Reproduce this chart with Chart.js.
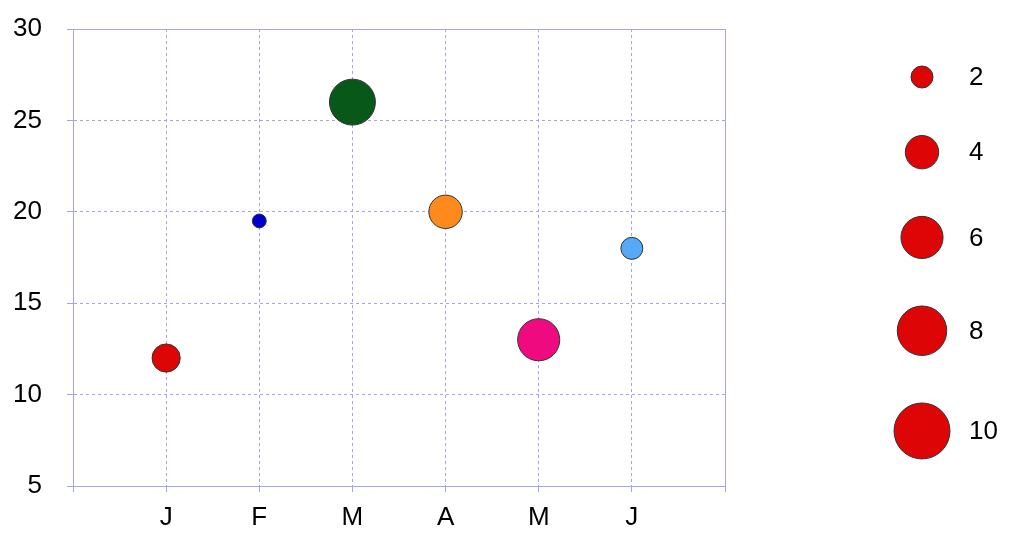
<!DOCTYPE html>
<html>
<head>
<meta charset="utf-8">
<script src="https://cdn.jsdelivr.net/npm/chart.js@4/dist/chart.umd.min.js"></script>
<style>
  html, body { margin: 0; padding: 0; background: #fff; }
  #wrap { width: 1024px; height: 544px; }
</style>
</head>
<body>
<div id="wrap"><canvas id="bubbleChart" width="1024" height="544"></canvas></div>
<script>
// Dados do gráfico
const months = ['J', 'F', 'M', 'A', 'M', 'J'];
const values = [12, 19.5, 26, 20, 13, 18];
const sizes = [3, 1, 7, 4, 6, 2];
const colors = ['#dd0505', '#0000cc', '#08581a', '#ff8a1c', '#f00a80', '#55aaf5'];
const legendSizes = [2, 4, 6, 8, 10];
const yTicks = [5, 10, 15, 20, 25, 30];

const gridColor = '#a4a4ee';
const fontFamily = '"Liberation Sans", Arial, sans-serif';
const fontSize = 26;

// tamanho -> raio em pixels
function radiusFor(v) {
    return 9.72 * Math.sqrt(v) - 2.75;
}

// moldura sólida em volta da área do gráfico
const frame = {
    id: 'frame',
    beforeDatasetsDraw(chart) {
        const a = chart.chartArea;
        const ctx = chart.ctx;
        ctx.save();
        ctx.strokeStyle = gridColor;
        ctx.lineWidth = 1;
        ctx.setLineDash([]);
        ctx.beginPath();
        ctx.moveTo(Math.round(a.left) + 0.5, Math.round(a.top) + 0.5);
        ctx.lineTo(Math.round(a.right) + 0.5, Math.round(a.top) + 0.5);
        ctx.lineTo(Math.round(a.right) + 0.5, Math.round(a.bottom) + 0.5);
        ctx.stroke();
        ctx.restore();
    }
};

// legenda de tamanhos à direita
const sizeLegend = {
    id: 'sizeLegend',
    afterDraw(chart) {
        const ctx = chart.ctx;
        const cx = 922, textX = 969, gap = 47.5;
        let y = 66;
        ctx.save();
        legendSizes.forEach(v => {
            const r = radiusFor(v);
            y += r;
            ctx.beginPath();
            ctx.arc(cx, y, r, 0, Math.PI * 2);
            ctx.fillStyle = '#dd0505';
            ctx.fill();
            ctx.lineWidth = 1;
            ctx.strokeStyle = '#333';
            ctx.stroke();
            ctx.fillStyle = '#000';
            ctx.font = fontSize + 'px ' + fontFamily;
            ctx.textAlign = 'left';
            ctx.textBaseline = 'middle';
            ctx.fillText(String(v), textX, y + 1);
            y += r + gap;
        });
        ctx.restore();
    }
};

const ctx = document.getElementById('bubbleChart').getContext('2d');
new Chart(ctx, {
    type: 'bubble',
    data: {
        datasets: [{
            data: values.map((y, i) => ({ x: i + 1, y: y, r: radiusFor(sizes[i]) })),
            backgroundColor: colors,
            borderColor: '#333',
            borderWidth: 1,
            hoverRadius: 0
        }]
    },
    options: {
        responsive: false,
        animation: false,
        layout: { padding: { top: 29, right: 299, left: 0, bottom: 0 } },
        plugins: { legend: { display: false }, tooltip: { enabled: false } },
        scales: {
            x: {
                type: 'linear',
                min: 0,
                max: 7,
                afterFit: s => { s.height = 58; },
                afterBuildTicks: s => { s.ticks = [0, 1, 2, 3, 4, 5, 6, 7].map(v => ({ value: v })); },
                ticks: {
                    padding: 10,
                    color: '#000',
                    font: { family: fontFamily, size: fontSize },
                    callback: v => months[v - 1] || ''
                },
                grid: { color: gridColor, tickLength: 6 },
                border: { color: gridColor, dash: [3, 3] }
            },
            y: {
                min: 5,
                max: 30,
                afterFit: s => { s.width = 73; s.paddingTop = 0; s.paddingBottom = 0; },
                afterBuildTicks: s => { s.ticks = yTicks.map(v => ({ value: v })); },
                ticks: {
                    padding: 25,
                    color: '#000',
                    font: { family: fontFamily, size: fontSize }
                },
                grid: { color: gridColor, tickLength: 6 },
                border: { color: gridColor, dash: [3, 3] }
            }
        }
    },
    plugins: [frame, sizeLegend]
});
</script>
</body>
</html>
